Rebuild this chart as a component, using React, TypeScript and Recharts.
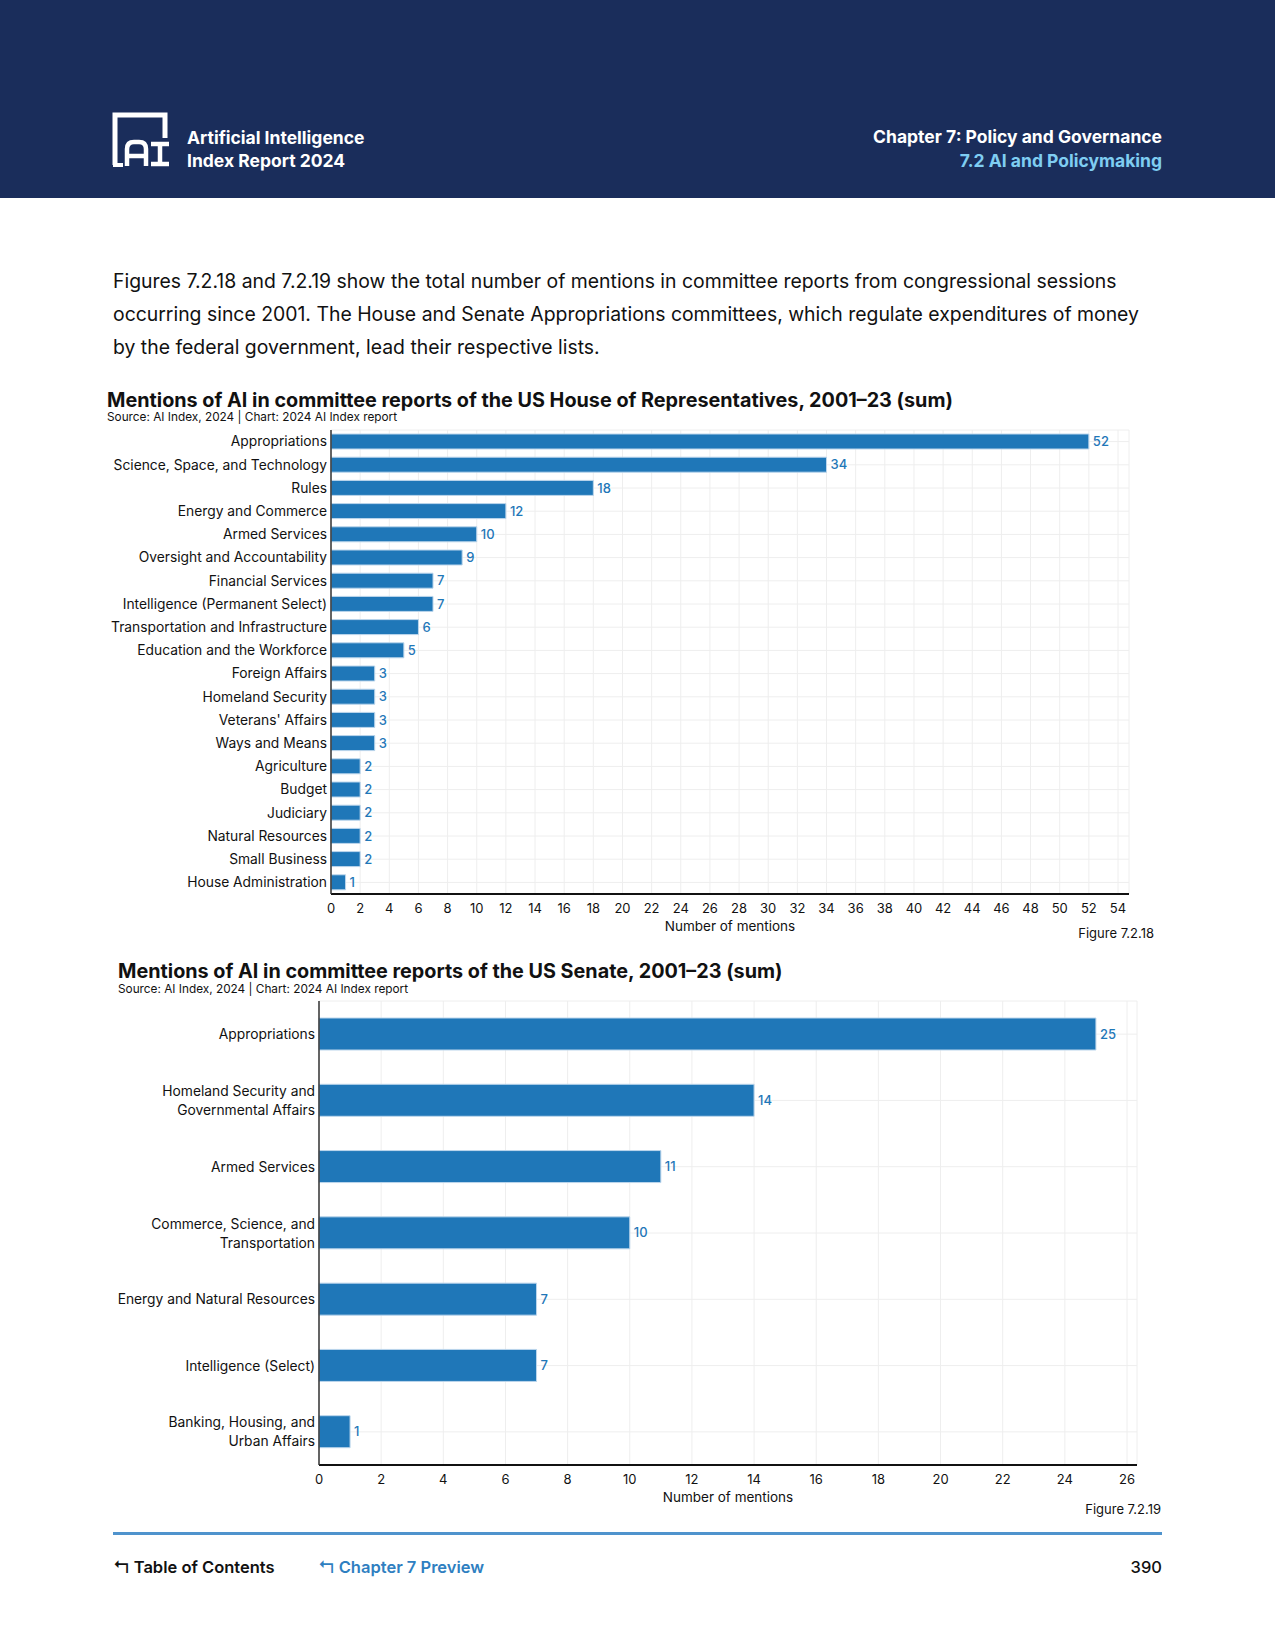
import React from "react";
import {
  BarChart,
  Bar,
  XAxis,
  YAxis,
  CartesianGrid,
  LabelList,
} from "recharts";

const houseCommittees = [
  "Appropriations",
  "Science, Space, and Technology",
  "Rules",
  "Energy and Commerce",
  "Armed Services",
  "Oversight and Accountability",
  "Financial Services",
  "Intelligence (Permanent Select)",
  "Transportation and Infrastructure",
  "Education and the Workforce",
  "Foreign Affairs",
  "Homeland Security",
  "Veterans' Affairs",
  "Ways and Means",
  "Agriculture",
  "Budget",
  "Judiciary",
  "Natural Resources",
  "Small Business",
  "House Administration",
];
const houseMentions = [52, 34, 18, 12, 10, 9, 7, 7, 6, 5, 3, 3, 3, 3, 2, 2, 2, 2, 2, 1];
const houseTicks = [
  0, 2, 4, 6, 8, 10, 12, 14, 16, 18, 20, 22, 24, 26, 28, 30, 32, 34, 36, 38, 40, 42, 44, 46, 48,
  50, 52, 54,
];

const senateCommittees = [
  "Appropriations",
  "Homeland Security and\nGovernmental Affairs",
  "Armed Services",
  "Commerce, Science, and\nTransportation",
  "Energy and Natural Resources",
  "Intelligence (Select)",
  "Banking, Housing, and\nUrban Affairs",
];
const senateMentions = [25, 14, 11, 10, 7, 7, 1];
const senateTicks = [0, 2, 4, 6, 8, 10, 12, 14, 16, 18, 20, 22, 24, 26];

const houseData = houseCommittees.map((name, i) => ({ name, value: houseMentions[i] }));
const senateData = senateCommittees.map((name, i) => ({ name, value: senateMentions[i] }));

const FONT = "Inter, 'Noto Sans', sans-serif";
const BAR = "#1f77b8";
const NAVY = "#1a2d5b";

const MultiLineTick = (props: any) => {
  const { x, y, payload } = props;
  const lines = String(payload.value).split("\n");
  const lh = 19;
  const start = -((lines.length - 1) * lh) / 2;
  return (
    <text x={x} y={y} textAnchor="end" fontSize={13.8} fill="#111" fontFamily={FONT}>
      {lines.map((ln, i) => (
        <tspan key={i} x={x} dy={i === 0 ? start + 5 : lh}>
          {ln}
        </tspan>
      ))}
    </text>
  );
};

const Txt = ({
  x,
  y,
  size,
  weight = 400,
  color = "#111",
  right,
  children,
}: {
  x: number;
  y: number;
  size: number;
  weight?: number;
  color?: string;
  right?: boolean;
  children: React.ReactNode;
}) => (
  <div
    style={{
      position: "absolute",
      top: y - size * 0.65,
      height: size * 1.3,
      lineHeight: `${size * 1.3}px`,
      fontSize: size,
      fontWeight: weight,
      color,
      whiteSpace: "nowrap",
      ...(right ? { right: 1275 - x, textAlign: "right" as const } : { left: x }),
    }}
  >
    {children}
  </div>
);

export default function App() {
  return (
    <div
      style={{
        position: "absolute",
        top: 0,
        left: 0,
        width: 1275,
        height: 1650,
        background: "#fff",
        fontFamily: FONT,
        overflow: "hidden",
      }}
    >
      {/* header band */}
      <div style={{ position: "absolute", top: 0, left: 0, width: 1275, height: 198, background: NAVY }} />
      <svg style={{ position: "absolute", left: 111, top: 111 }} width={60} height={58}>
        <path d="M4 54 V4 H54 V27" stroke="#fff" strokeWidth={5} fill="none" />
        <path d="M2 54 H12" stroke="#fff" strokeWidth={4} fill="none" />
        <path d="M16 55 V38 Q16 31 23 31 H28 Q35 31 35 38 V55 M16 45 H35" stroke="#fff" strokeWidth={4.5} fill="none" />
        <path d="M40 33 H58 M49 33 V53 M40 53 H58" stroke="#fff" strokeWidth={4.5} fill="none" />
      </svg>
      <Txt x={187} y={138} size={17.5} weight={700} color="#fff">
        Artificial Intelligence
      </Txt>
      <Txt x={187} y={161} size={17.5} weight={700} color="#fff">
        Index Report 2024
      </Txt>
      <Txt x={1162} y={137} size={17.5} weight={700} color="#fff" right>
        Chapter 7: Policy and Governance
      </Txt>
      <Txt x={1162} y={161} size={17.5} weight={700} color="#7fcdf2" right>
        7.2 AI and Policymaking
      </Txt>

      {/* paragraph */}
      <Txt x={113} y={282} size={19.4}>
        Figures 7.2.18 and 7.2.19 show the total number of mentions in committee reports from congressional sessions
      </Txt>
      <Txt x={113} y={315} size={19.4}>
        occurring since 2001. The House and Senate Appropriations committees, which regulate expenditures of money
      </Txt>
      <Txt x={113} y={348} size={19.4}>
        by the federal government, lead their respective lists.
      </Txt>

      {/* chart 1 */}
      <Txt x={107} y={401} size={19.8} weight={700}>
        Mentions of AI in committee reports of the US House of Representatives, 2001–23 (sum)
      </Txt>
      <Txt x={107} y={418} size={11.8}>
        Source: AI Index, 2024 | Chart: 2024 AI Index report
      </Txt>
      <div style={{ position: "absolute", left: 0, top: 420 }}>
        <BarChart
          width={1275}
          height={524}
          data={houseData}
          layout="vertical"
          margin={{ top: 10, right: 146, left: 31, bottom: 0 }}
        >
          <CartesianGrid stroke="#eeeeee" strokeWidth={1} />
          <XAxis
            type="number"
            domain={[0, 54]}
            ticks={houseTicks}
            interval={0}
            padding={{ left: 0, right: 11 }}
            height={50}
            tickSize={0}
            tickMargin={10}
            axisLine={{ stroke: "#111", strokeWidth: 2 }}
            tick={{ fontSize: 13, fill: "#111", fontFamily: FONT }}
            label={{
              value: "Number of mentions",
              position: "insideBottom",
              offset: 13,
              fontSize: 13.5,
              fill: "#111",
              fontFamily: FONT,
            }}
          />
          <YAxis
            type="category"
            dataKey="name"
            width={300}
            interval={0}
            tickSize={0}
            tickMargin={4}
            axisLine={{ stroke: "#333", strokeWidth: 1.5 }}
            tick={{ fontSize: 13.8, fill: "#111", fontFamily: FONT }}
          />
          <Bar dataKey="value" fill={BAR} stroke="#bcd6ec" strokeWidth={1} barSize={15} isAnimationActive={false}>
            <LabelList
              dataKey="value"
              position="right"
              offset={4}
              fill={BAR}
              fontSize={13}
              fontWeight={500}
              fontFamily={FONT}
            />
          </Bar>
        </BarChart>
      </div>
      <Txt x={1154} y={933} size={13} right>
        Figure 7.2.18
      </Txt>

      {/* chart 2 */}
      <Txt x={118} y={972} size={19.8} weight={700}>
        Mentions of AI in committee reports of the US Senate, 2001–23 (sum)
      </Txt>
      <Txt x={118} y={990} size={11.8}>
        Source: AI Index, 2024 | Chart: 2024 AI Index report
      </Txt>
      <div style={{ position: "absolute", left: 0, top: 991 }}>
        <BarChart
          width={1275}
          height={524}
          data={senateData}
          layout="vertical"
          margin={{ top: 10, right: 138, left: 19, bottom: 0 }}
        >
          <CartesianGrid stroke="#eeeeee" strokeWidth={1} />
          <XAxis
            type="number"
            domain={[0, 26]}
            ticks={senateTicks}
            interval={0}
            padding={{ left: 0, right: 10 }}
            height={50}
            tickSize={0}
            tickMargin={10}
            axisLine={{ stroke: "#111", strokeWidth: 2 }}
            tick={{ fontSize: 13, fill: "#111", fontFamily: FONT }}
            label={{
              value: "Number of mentions",
              position: "insideBottom",
              offset: 13,
              fontSize: 13.5,
              fill: "#111",
              fontFamily: FONT,
            }}
          />
          <YAxis
            type="category"
            dataKey="name"
            width={300}
            interval={0}
            tickSize={0}
            tickMargin={4}
            axisLine={{ stroke: "#333", strokeWidth: 1.5 }}
            tick={<MultiLineTick />}
          />
          <Bar dataKey="value" fill={BAR} stroke="#bcd6ec" strokeWidth={1} barSize={32} isAnimationActive={false}>
            <LabelList
              dataKey="value"
              position="right"
              offset={4}
              fill={BAR}
              fontSize={13}
              fontWeight={500}
              fontFamily={FONT}
            />
          </Bar>
        </BarChart>
      </div>
      <Txt x={1161} y={1509} size={13} right>
        Figure 7.2.19
      </Txt>

      {/* footer */}
      <div style={{ position: "absolute", left: 113, top: 1532, width: 1049, height: 3, background: "#4f93cd" }} />
      <Txt x={113} y={1568} size={16.5} weight={600}>
        ↰ Table of Contents
      </Txt>
      <Txt x={318} y={1568} size={16.5} weight={600} color="#2f7fc1">
        ↰ Chapter 7 Preview
      </Txt>
      <Txt x={1162} y={1568} size={16.5} weight={500} right>
        390
      </Txt>
    </div>
  );
}
